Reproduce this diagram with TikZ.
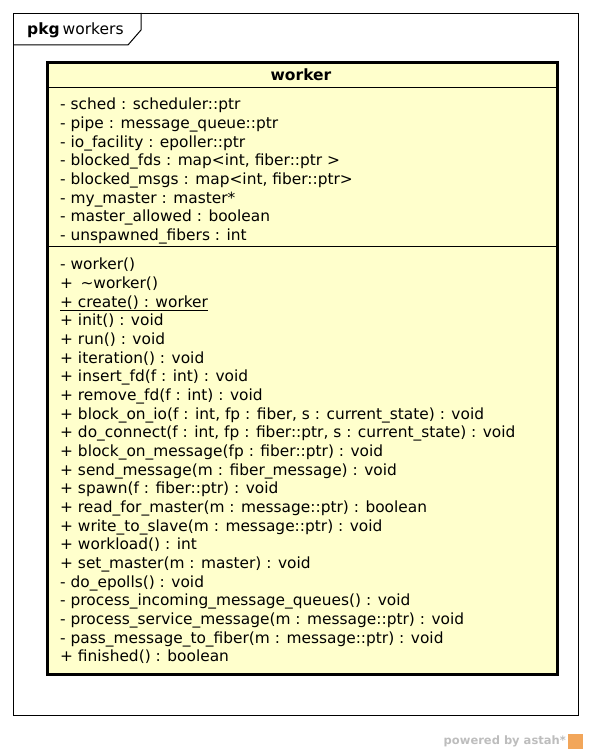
\documentclass[tikz,border=0pt]{standalone}
\usepackage{fontspec}
\setmainfont{DejaVu Sans}
\usepackage{xcolor}
\usetikzlibrary{positioning,calc}
\definecolor{classfill}{HTML}{FFFFCC}
\definecolor{markgray}{HTML}{BDBDBD}
\definecolor{markorange}{HTML}{F2A65A}

\begin{document}
\begin{tikzpicture}[
    x=1pt, y=-1pt,
    frame/.style={draw, line width=1pt, anchor=north west, inner sep=0pt},
    classbox/.style={draw, fill=classfill, line width=3pt, anchor=north west, inner sep=0pt},
    members/.style={font=\fontsize{15.4}{18.67}\selectfont, align=left, inner sep=0pt, anchor=north west},
    sepline/.style={line width=1pt}
]
\useasboundingbox (0,0) rectangle (592,754);

% package frame with its tab
\node[frame, minimum width=565pt, minimum height=702pt] (pkg) at (13,13) {};
\coordinate (tabA) at (13,45);
\coordinate (tabB) at (128,45);
\coordinate (tabC) at (141,30);
\coordinate (tabD) at (141,13);
\draw[line width=1pt] (tabA) -- (tabB) -- (tabC) -- (tabD);
\node[anchor=west, font=\fontsize{15.5}{18}\selectfont, inner sep=0pt] (pkglabel) at (27,30) {\textbf{pkg}\kern3pt workers};

% the class
\node[classbox, minimum width=510pt, minimum height=612pt] (worker) at (46,61) {};
\node[font=\bfseries\fontsize{15.5}{18}\selectfont] (title) at (301,75) {worker};
\draw[sepline] (worker.west |- 0,88) -- (worker.east |- 0,88);
\draw[sepline] (worker.west |- 0,246) -- (worker.east |- 0,246);

\node[members] (attrs) at (60,98) {
    - sched : scheduler::ptr\\
    - pipe : message\_queue::ptr\\
    - io\_facility : epoller::ptr\\
    - blocked\_fds : map<int, fiber::ptr >\\
    - blocked\_msgs : map<int, fiber::ptr>\\
    - my\_master : master*\\
    - master\_allowed : boolean\\
    - unspawned\_fibers : int
};

\node[members] (ops) at (60,258) {
    - worker()\\
    + \,\textasciitilde worker()\\
    \underline{+ create() : worker}\\
    + init() : void\\
    + run() : void\\
    + iteration() : void\\
    + insert\_fd(f : int) : void\\
    + remove\_fd(f : int) : void\\
    + block\_on\_io(f : int, fp : fiber, s : current\_state) : void\\
    + do\_connect(f : int, fp : fiber::ptr, s : current\_state) : void\\
    + block\_on\_message(fp : fiber::ptr) : void\\
    + send\_message(m : fiber\_message) : void\\
    + spawn(f : fiber::ptr) : void\\
    + read\_for\_master(m : message::ptr) : boolean\\
    + write\_to\_slave(m : message::ptr) : void\\
    + workload() : int\\
    + set\_master(m : master) : void\\
    - do\_epolls() : void\\
    - process\_incoming\_message\_queues() : void\\
    - process\_service\_message(m : message::ptr) : void\\
    - pass\_message\_to\_fiber(m : message::ptr) : void\\
    + finished() : boolean
};

% watermark
\node[anchor=east, inner sep=0pt, text=markgray, font=\bfseries\fontsize{11.5}{13}\selectfont] (powered) at (566,741) {powered by astah*};
\node[fill=markorange, minimum size=15pt, inner sep=0pt, right=2pt of powered] (logo) {};

\end{tikzpicture}
\end{document}
